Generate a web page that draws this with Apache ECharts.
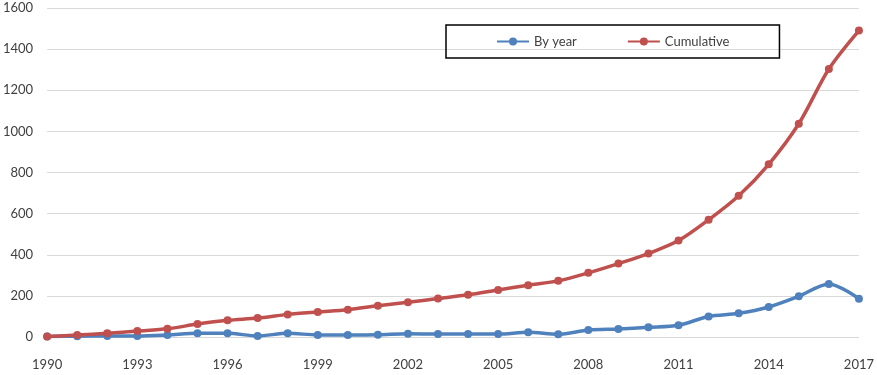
<!DOCTYPE html>
<html>
<head>
<meta charset="utf-8">
<script src="https://cdn.jsdelivr.net/npm/echarts@6/dist/echarts.min.js"></script>
<style>html,body{margin:0;padding:0;background:#fff}#c{width:877px;height:375px}</style>
</head>
<body>
<div id="c"></div>
<script>
const years = [];
for (let y = 1990; y <= 2017; y++) years.push(String(y));
const byYear = [2, 4, 5, 5, 10, 18, 18, 5, 18, 10, 10, 11, 16, 14, 14, 14, 23, 13, 34, 39, 47, 57, 100, 115, 146, 198, 258, 186];
const cumulative = [2, 10, 18, 29, 40, 63, 81, 92, 110, 122, 133, 152, 169, 187, 205, 229, 252, 273, 312, 357, 406, 469, 570, 687, 840, 1037, 1303, 1490];
const yTicks = [0, 200, 400, 600, 800, 1000, 1200, 1400, 1600];

const chart = echarts.init(document.getElementById('c'), null, {renderer: 'canvas'});
const font = 'Lato, "Open Sans", sans-serif';
chart.setOption({
  animation: false,
  textStyle: {fontFamily: font},
  grid: {left: 44, right: 17, top: 8, bottom: 38, containLabel: false},
  legend: {
    left: 446, top: 25,
    padding: [10, 50, 10, 50],
    borderColor: '#000', borderWidth: 1.5,
    itemWidth: 32, itemHeight: 10, itemGap: 50,
    textStyle: {color: '#404040', fontSize: 13, fontFamily: font},
    data: ['By year', 'Cumulative']
  },
  xAxis: {
    type: 'category', data: years, boundaryGap: false,
    axisLine: {show: false}, axisTick: {show: false},
    axisLabel: {interval: 2, color: '#404040', fontSize: 13, margin: 21, fontFamily: font}
  },
  yAxis: {
    type: 'value', min: yTicks[0], max: yTicks[yTicks.length - 1], interval: 200,
    axisLine: {show: false}, axisTick: {show: false},
    axisLabel: {color: '#404040', fontSize: 13, margin: 14, fontFamily: font,
      formatter: function (v) { return String(v); }},
    splitLine: {lineStyle: {color: '#d9d9d9', width: 1}}
  },
  series: [
    {name: 'By year', type: 'line', data: byYear, smooth: 0.3,
     symbol: 'circle', symbolSize: 8,
     lineStyle: {color: '#4F81BD', width: 3.5}, itemStyle: {color: '#4F81BD'}},
    {name: 'Cumulative', type: 'line', data: cumulative, smooth: 0.3,
     symbol: 'circle', symbolSize: 8,
     lineStyle: {color: '#C0504D', width: 3.5}, itemStyle: {color: '#C0504D'}}
  ]
});
</script>
</body>
</html>
